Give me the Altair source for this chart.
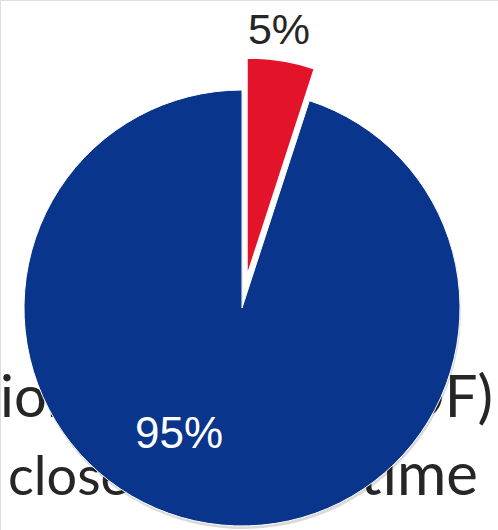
import altair as alt
import pandas as pd

# data
categories = ["Minority", "Majority"]
values = [5, 95]
labels = ["5%", "95%"]
colors = ["#E3132A", "#0A358C"]

line1_left = "ion"
line1_right = "DF)"
line2_left = "close"
line2_right = "time"

ends = pd.Series(values).cumsum()
starts = ends - pd.Series(values)
df = pd.DataFrame({"cat": categories, "value": values, "start": starts, "end": ends, "label": labels})

W, H = 498, 530
theta_scale = alt.Scale(domain=[0, 100], range=[0, 6.283185307])

base = alt.Chart(df)

def txt(s, x, y, align, size, color, font):
    return alt.Chart(pd.DataFrame({"t": [s]})).mark_text(
        align=align, baseline="alphabetic", fontSize=size, color=color, font=font
    ).encode(x=alt.value(x), y=alt.value(y), text="t:N")

bg_font = "Lato"
bg = [
    txt(line1_left, 0, 417, "left", 58, "#262626", bg_font),
    txt(line1_right, 493, 417, "right", 58, "#262626", bg_font),
    txt(line2_left, 8, 495, "left", 54, "#262626", bg_font),
    txt(line2_right, 478, 495, "right", 60, "#262626", bg_font),
]

shadow = base.transform_filter(alt.datum.cat == "Majority").mark_arc(
    radius=218, color="#000000", opacity=0.15
).encode(
    theta=alt.Theta("start:Q", scale=theta_scale),
    theta2="end:Q",
    x=alt.value(243), y=alt.value(311),
)

blue = base.transform_filter(alt.datum.cat == "Majority").mark_arc(
    radius=218, stroke="#ffffff", strokeWidth=1
).encode(
    theta=alt.Theta("start:Q", scale=theta_scale),
    theta2="end:Q",
    color=alt.Color("cat:N", scale=alt.Scale(domain=categories, range=colors), legend=None),
    x=alt.value(242), y=alt.value(308),
)

red = base.transform_filter(alt.datum.cat == "Minority").mark_arc(
    radius=218, stroke="#ffffff", strokeWidth=1.5
).encode(
    theta=alt.Theta("start:Q", scale=theta_scale),
    theta2="end:Q",
    color=alt.Color("cat:N", scale=alt.Scale(domain=categories, range=colors), legend=None),
    x=alt.value(247), y=alt.value(276),
)

lab5 = base.transform_filter(alt.datum.cat == "Minority").mark_text(
    align="center", baseline="alphabetic", fontSize=43, color="#262626", font="Liberation Sans"
).encode(text="label:N", x=alt.value(279), y=alt.value(44))

lab95 = base.transform_filter(alt.datum.cat == "Majority").mark_text(
    align="center", baseline="alphabetic", fontSize=44, color="#ffffff", font="Liberation Sans"
).encode(text="label:N", x=alt.value(179), y=alt.value(448))

chart = alt.layer(*bg, shadow, blue, red, lab5, lab95).properties(
    width=W, height=H, padding=0, autosize=alt.AutoSizeParams(type="none")
).configure_view(stroke=None).configure(background="#ffffff")

chart.save("out.html", embed_options={"renderer": "svg", "actions": False})
